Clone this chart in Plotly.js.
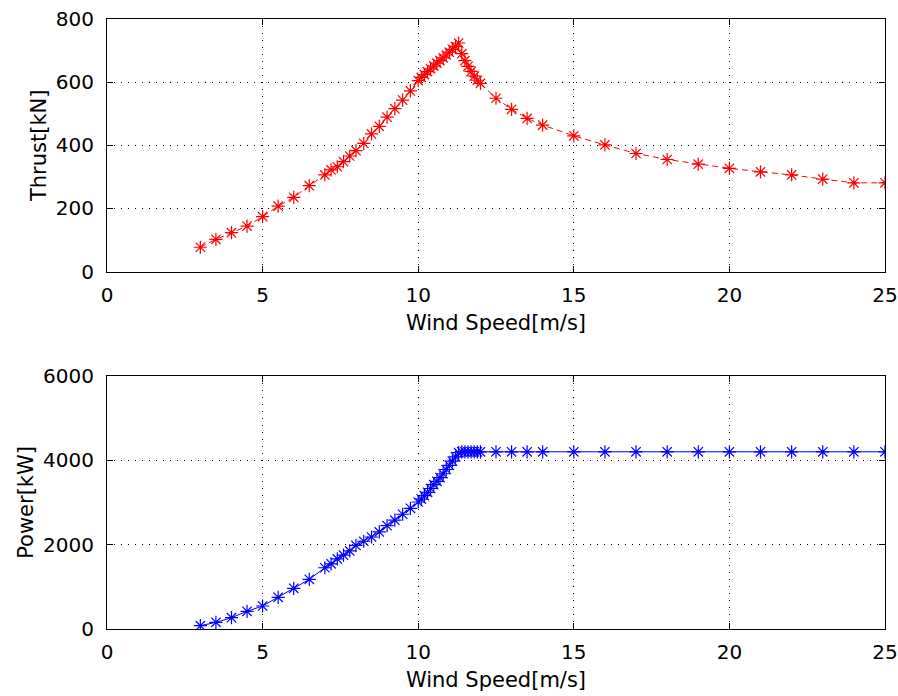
<!DOCTYPE html>
<html>
<head>
<meta charset="utf-8">
<script src="https://cdn.plot.ly/plotly-3.0.1.min.js"></script>
<style>html,body{margin:0;padding:0;background:#fff;}#chart{width:898px;height:696px;}</style>
</head>
<body>
<div id="chart"></div>
<script>
// Wind speed samples [m/s]
const windSpeed = [3, 3.5, 4, 4.5, 5, 5.5, 6, 6.5, 7, 7.2, 7.4, 7.6, 7.8, 8, 8.25, 8.5, 8.75, 9, 9.25, 9.5, 9.75,
  10, 10.1, 10.2, 10.3, 10.4, 10.5, 10.6, 10.7, 10.8, 10.9, 11, 11.1, 11.2, 11.3,
  11.4, 11.5, 11.6, 11.7, 11.8, 11.9, 12, 12.5, 13, 13.5, 14, 15, 16, 17, 18, 19, 20, 21, 22, 23, 24, 25];

// Thrust [kN]
const thrust = [77, 102, 123, 144, 174, 207, 235, 272, 306, 322, 332, 348, 366, 383, 406, 436, 460, 489, 516, 543, 572,
  605, 615, 624, 633, 642, 651, 660, 668, 677, 686, 695, 704, 713, 724,
  690, 668, 650, 634, 619, 606, 596, 549, 514, 485, 464, 430, 401, 374, 355, 340, 327, 316, 306, 293, 281, 281];

// Power [kW]
const power = [78, 158, 268, 420, 545, 750, 964, 1177, 1452, 1545, 1660, 1750, 1850, 1980, 2080, 2180, 2300, 2450, 2580, 2720, 2860,
  3010, 3080, 3160, 3240, 3330, 3420, 3500, 3590, 3680, 3780, 3880, 3980, 4080, 4180,
  4200, 4200, 4200, 4200, 4200, 4200, 4200, 4200, 4200, 4200, 4200, 4200, 4200, 4200, 4200, 4200, 4200, 4200, 4200, 4200, 4200, 4200];

const xTicks = [0, 5, 10, 15, 20, 25];
const thrustTicks = [0, 200, 400, 600, 800];
const powerTicks = [0, 2000, 4000, 6000];

const FONT = 'DejaVu Sans, Liberation Sans, Arial, sans-serif';

const traces = [
  {
    x: windSpeed, y: thrust, xaxis: 'x', yaxis: 'y', type: 'scatter', mode: 'lines+markers',
    line: {color: '#ff0000', width: 1, dash: '6px,4px'},
    marker: {symbol: 'asterisk-open', size: 11, color: '#ff0000', line: {color: '#ff0000', width: 1.2}},
    hoverinfo: 'skip'
  },
  {
    x: windSpeed, y: power, xaxis: 'x2', yaxis: 'y2', type: 'scatter', mode: 'lines+markers',
    line: {color: '#0000ff', width: 1},
    marker: {symbol: 'asterisk-open', size: 11, color: '#0000ff', line: {color: '#0000ff', width: 1.2}},
    hoverinfo: 'skip'
  }
];

function xAxis(anchor) {
  return {
    anchor: anchor, domain: [0, 1], range: [0, 25],
    tickmode: 'array', tickvals: xTicks, ticktext: xTicks.map(String),
    ticks: 'inside', ticklen: 6, tickcolor: '#000', tickwidth: 1,
    showline: true, linecolor: '#000', linewidth: 1, mirror: 'ticks',
    showgrid: true, gridcolor: '#000', gridwidth: 1, griddash: '1px,6px',
    zeroline: false, ticklabelstandoff: 5,
    tickfont: {family: FONT, size: 20, color: '#000'},
    title: {text: 'Wind Speed[m/s]', font: {family: FONT, size: 21, color: '#000'}, standoff: 9}
  };
}
function yAxis(anchor, domain, range, ticks, title) {
  return {
    anchor: anchor, domain: domain, range: range,
    tickmode: 'array', tickvals: ticks, ticktext: ticks.map(String),
    ticks: 'inside', ticklen: 6, tickcolor: '#000', tickwidth: 1,
    showline: true, linecolor: '#000', linewidth: 1, mirror: 'ticks',
    showgrid: true, gridcolor: '#000', gridwidth: 1, griddash: '1px,6px',
    zeroline: false, ticklabelstandoff: 8,
    tickfont: {family: FONT, size: 20, color: '#000'},
    title: {text: title, font: {family: FONT, size: 21, color: '#000'}, standoff: 3}
  };
}

const layout = {
  width: 898, height: 696,
  margin: {l: 107, r: 13, t: 19, b: 67},
  paper_bgcolor: '#ffffff', plot_bgcolor: '#ffffff',
  showlegend: false,
  xaxis: xAxis('y'),
  yaxis: yAxis('x', [0.586, 1], [0, 800], thrustTicks, 'Thrust[kN]'),
  xaxis2: xAxis('y2'),
  yaxis2: yAxis('x2', [0, 0.415], [0, 6000], powerTicks, 'Power[kW]')
};

Plotly.newPlot('chart', traces, layout, {staticPlot: true, displayModeBar: false});
</script>
</body>
</html>
